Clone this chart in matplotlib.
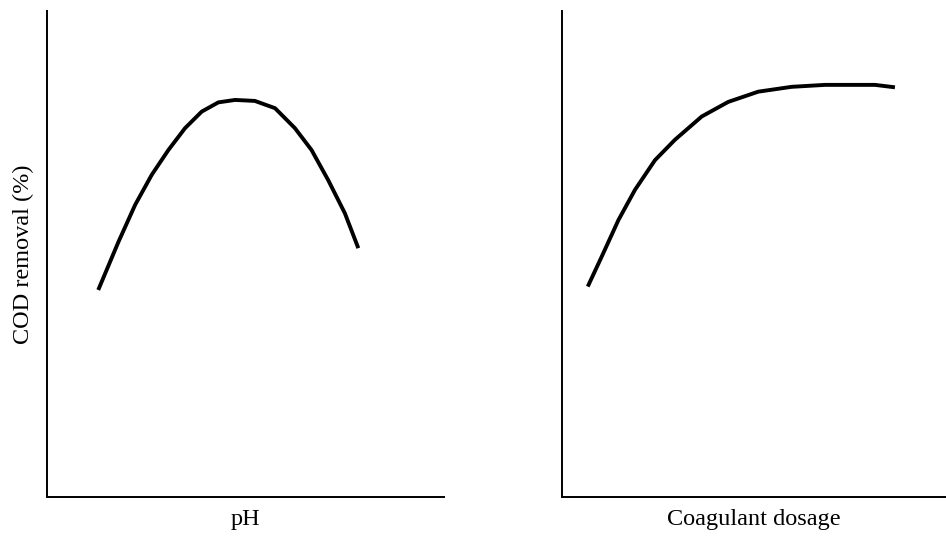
import numpy as np
import matplotlib
matplotlib.use("Agg")
import matplotlib.pyplot as plt

# values (arbitrary units, 0-10 on x, 0-100 on y)
ph_x = [1.28, 1.79, 2.21, 2.63, 3.05, 3.47, 3.89, 4.31, 4.73, 5.23, 5.74, 6.24, 6.66, 7.08, 7.50, 7.84]
ph_y = [42.6, 52.5, 60.1, 66.3, 71.4, 75.9, 79.3, 81.2, 81.7, 81.5, 80.0, 75.9, 71.4, 65.2, 58.4, 51.2]

dose_x = [0.67, 1.03, 1.47, 1.90, 2.42, 2.94, 3.64, 4.33, 5.11, 5.98, 6.85, 8.15, 8.67]
dose_y = [43.3, 49.4, 57.0, 63.2, 69.3, 73.5, 78.3, 81.3, 83.4, 84.4, 84.8, 84.8, 84.3]

plt.rcParams['font.family'] = ['Liberation Serif', 'DejaVu Serif']

fig = plt.figure(figsize=(9.46, 5.37), dpi=100)
ax1 = fig.add_axes([0.0502, 0.0745, 0.4191, 0.905])
ax2 = fig.add_axes([0.5941, 0.0745, 0.4059, 0.905])

for ax, x, y, lab in [(ax1, ph_x, ph_y, "pH"), (ax2, dose_x, dose_y, "Coagulant dosage")]:
    ax.plot(x, y, color="black", lw=2.8, solid_capstyle="butt", solid_joinstyle="round")
    ax.set_xlim(0, 10)
    ax.set_ylim(0, 100)
    ax.spines["top"].set_visible(False)
    ax.spines["right"].set_visible(False)
    ax.spines["left"].set_linewidth(1.4)
    ax.spines["bottom"].set_linewidth(1.4)
    ax.set_xticks([])
    ax.set_yticks([])
    ax.set_xlabel(lab, fontsize=17.5, labelpad=9)

ax1.set_ylabel("COD removal (%)", fontsize=17.5, labelpad=10)

plt.savefig("out.png", dpi=100)
